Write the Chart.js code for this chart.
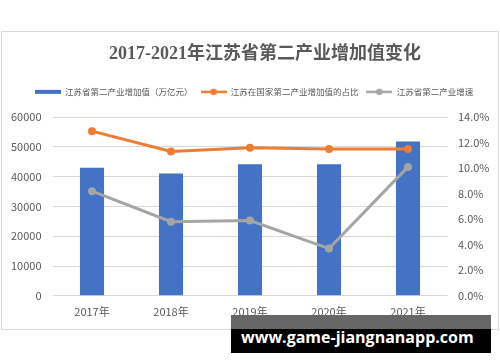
<!DOCTYPE html>
<html><head><meta charset="utf-8">
<script src="https://cdn.jsdelivr.net/npm/chart.js@4/dist/chart.umd.min.js"></script>
<style>
html,body{margin:0;padding:0;background:#fff;}
body{width:500px;height:362px;position:relative;overflow:hidden;}
#frame{position:absolute;left:1px;top:31px;width:496px;height:297px;border:1px solid #d9d9d9;background:#fff;}
#frame canvas{display:block;}
#wm{position:absolute;left:231px;top:315px;width:260px;height:38px;background:#000;}
#wmtop{position:absolute;left:0;top:0;width:260px;height:14px;background:#666;}
#wmtext{position:absolute;left:10px;top:11px;font:bold 16px 'Open Sans',sans-serif;line-height:normal;color:#fff;white-space:nowrap;}
</style>
</head><body>
<div id="frame"><canvas id="c" width="496" height="297"></canvas></div>
<div id="wm"><div id="wmtop"></div><div id="wmtext">www.game-jiangnanapp.com</div></div>
<script>
const chartTitle = '2017-2021年江苏省第二产业增加值变化';
const categories = ['2017年', '2018年', '2019年', '2020年', '2021年'];
const seriesNames = ['江苏省第二产业增加值（万亿元）', '江苏在国家第二产业增加值的占比', '江苏省第二产业增速'];
const addedValue = [43000, 41100, 44200, 44200, 51800];
const nationalShare = [12.9, 11.3, 11.6, 11.5, 11.5];
const growthRate = [8.2, 5.8, 5.9, 3.7, 10.1];

const colors = ['#4472C4', '#ED7D31', '#A5A5A5'];
const textColor = '#595959';
const tickFont = {family: "'Noto Sans CJK SC', 'Noto Sans', sans-serif", size: 11};

function marker(type, color) {
  const c = document.createElement('canvas');
  c.width = 26; c.height = 8;
  const x = c.getContext('2d');
  if (type === 'bar') {
    x.fillStyle = color; x.fillRect(0, 2, 26, 4);
  } else {
    x.strokeStyle = color; x.lineWidth = 2.5;
    x.beginPath(); x.moveTo(0, 4); x.lineTo(26, 4); x.stroke();
    x.fillStyle = color; x.beginPath(); x.arc(13, 4, 3.2, 0, Math.PI * 2); x.fill();
  }
  return c;
}
const markers = [marker('bar', colors[0]), marker('line', colors[1]), marker('line', colors[2])];

const layoutTweak = {
  id: 'layoutTweak',
  beforeInit(chart) {
    const lg = chart.legend;
    const orig = lg.fit;
    lg.fit = function () { orig.call(this); this.height += 11; };
  },
  afterLayout(chart) {
    if (chart.titleBlock) { chart.titleBlock.left += 15; chart.titleBlock.right += 15; }
    if (chart.legend) { chart.legend.left += 4; chart.legend.right += 4; }
  }
};

new Chart(document.getElementById('c'), {
  data: {
    labels: categories,
    datasets: [
      {type: 'bar', label: seriesNames[0], data: addedValue, backgroundColor: colors[0],
       yAxisID: 'y', order: 3, categoryPercentage: 1, barPercentage: 0.305},
      {type: 'line', label: seriesNames[1], data: nationalShare, borderColor: colors[1], backgroundColor: colors[1],
       borderWidth: 3, pointRadius: 4, pointHoverRadius: 4, pointBorderWidth: 0, yAxisID: 'y2', order: 1},
      {type: 'line', label: seriesNames[2], data: growthRate, borderColor: colors[2], backgroundColor: colors[2],
       borderWidth: 3, pointRadius: 4, pointHoverRadius: 4, pointBorderWidth: 0, yAxisID: 'y2', order: 2}
    ]
  },
  options: {
    responsive: false,
    animation: false,
    devicePixelRatio: 1,
    layout: {padding: {left: 0, right: 0, top: 0, bottom: 2}},
    plugins: {
      title: {
        display: true, text: chartTitle, color: textColor,
        font: {family: "'Liberation Serif', 'Noto Sans CJK SC', serif", size: 18, weight: 'bold'},
        padding: {top: 12, bottom: 14}
      },
      legend: {
        display: true, position: 'top',
        labels: {
          usePointStyle: true, pointStyleWidth: 26, padding: 8, color: textColor,
          font: {family: "'Noto Sans CJK SC', sans-serif", size: 8.5},
          generateLabels: (chart) => chart.data.datasets.map((d, i) => ({
            text: d.label, pointStyle: markers[i], fillStyle: colors[i], strokeStyle: colors[i],
            lineWidth: 0, hidden: false, datasetIndex: i, fontColor: textColor
          }))
        }
      },
      tooltip: {enabled: false}
    },
    scales: {
      x: {
        offset: true,
        grid: {display: false, drawTicks: false},
        border: {display: false},
        ticks: {color: textColor, font: tickFont, padding: 9}
      },
      y: {
        position: 'left', min: 0, max: 60000,
        grid: {color: '#d9d9d9', drawTicks: false, lineWidth: 1},
        border: {display: false},
        ticks: {stepSize: 10000, padding: 11, color: textColor, font: tickFont, callback: (v) => String(v)},
        afterFit(s) { s.width = 50.5; }
      },
      y2: {
        position: 'right', min: 0, max: 14,
        grid: {display: false, drawTicks: false},
        border: {display: false},
        ticks: {stepSize: 2, padding: 10.5, color: textColor, font: tickFont, callback: (v) => v.toFixed(1) + '%'},
        afterFit(s) { s.width = 50.5; }
      }
    }
  },
  plugins: [layoutTweak]
});
</script>
</body></html>
